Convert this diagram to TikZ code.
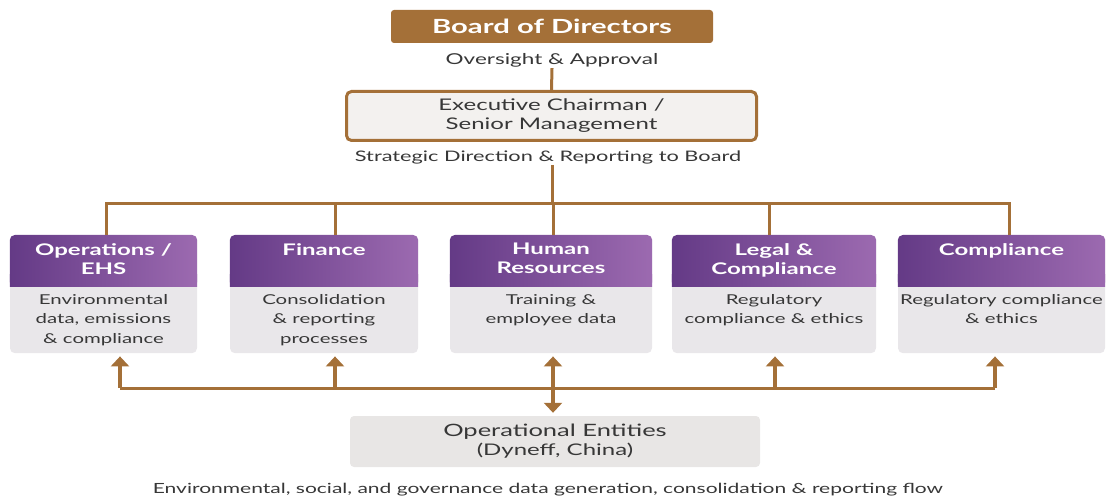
\documentclass[tikz,border=0pt]{standalone}
\usepackage{fontspec}
\setmainfont{Lato}[FakeStretch=1.5]
\usetikzlibrary{arrows.meta, positioning, calc}

\definecolor{bronze}{RGB}{164,112,56}
\definecolor{plumdark}{RGB}{100,58,134}
\definecolor{plumlight}{RGB}{156,106,176}
\definecolor{cardgray}{RGB}{233,231,234}
\definecolor{execgray}{RGB}{243,241,239}
\definecolor{entgray}{RGB}{232,230,229}
\definecolor{ink}{RGB}{55,55,55}

\begin{document}
\begin{tikzpicture}[
    x=1pt, y=-1pt,
    board/.style={rectangle, fill=bronze, text=white, rounded corners=3pt, minimum width=322, minimum height=33, inner sep=0, font=\fontsize{19.5}{22}\selectfont\bfseries},
    note/.style={text=ink, inner sep=1pt, font=\fontsize{15}{18}\selectfont},
    execbox/.style={rectangle, draw=bronze, line width=3pt, fill=execgray, rounded corners=5pt, minimum width=410, minimum height=49, align=center, text=ink, font=\fontsize{16}{19}\selectfont},
    card/.style={rectangle, fill=cardgray, rounded corners=5pt, minimum height=118, anchor=north, inner sep=0},
    headshade/.style={left color=plumdark, right color=plumlight},
    headtext/.style={anchor=north, align=center, text=white, inner sep=0, font=\fontsize{16}{19}\selectfont\bfseries},
    bodytext/.style={anchor=north, align=center, text=ink, inner sep=0, font=\fontsize{13.6}{19.5}\selectfont},
    entbox/.style={rectangle, fill=entgray, rounded corners=4pt, minimum width=410, minimum height=51, align=center, text=ink, font=\fontsize{16}{19}\selectfont},
    link/.style={draw=bronze, line width=3pt},
    arrow/.style={draw=bronze, line width=3.5pt, -{Triangle[width=18pt,length=10pt]}, shorten >=3pt},
    twoway/.style={draw=bronze, line width=3.5pt, {Triangle[width=18pt,length=10pt]}-{Triangle[width=18pt,length=10pt]}, shorten >=3pt, shorten <=3pt}
]
\useasboundingbox (0,0) rectangle (1107,502);

% top of the chart
\node[board] (board) at (552,26.5) {Board of Directors};
\node[note] (over) at (552,60) {Oversight \& Approval};
\node[execbox] (exec) at (551.5,116) {Executive Chairman /\\Senior Management};
\node[note, font=\fontsize{14.5}{18}\selectfont] (strat) at (548,157) {Strategic Direction \& Reporting to Board};
\coordinate (topbus) at (552,204);
\coordinate (lowbus) at (552,388);

% department cards
\node[card, minimum width=187] (ops) at (103.5,235) {};
\node[card, minimum width=188] (fin) at (324,235) {};
\node[card, minimum width=202] (hr) at (551,235) {};
\node[card, minimum width=204] (legal) at (774,235) {};
\node[card, minimum width=207] (comp) at (1001.5,235) {};

\foreach \c in {ops,fin,hr,legal,comp} {
  \shade[headshade, rounded corners=5pt] (\c.north west) rectangle ([yshift=-52pt]\c.north east);
  \shade[headshade] ([yshift=-40pt]\c.north west) rectangle ([yshift=-52pt]\c.north east);
}

\node[headtext] (opst) at ([yshift=-8pt]ops.north) {Operations /\\EHS};
\node[headtext] (fint) at ([yshift=-8pt]fin.north) {Finance};
\node[headtext] (hrt) at ([yshift=-8pt]hr.north) {Human\\Resources};
\node[headtext] (legalt) at ([yshift=-8pt]legal.north) {Legal \&\\Compliance};
\node[headtext] (compt) at ([yshift=-8pt]comp.north) {Compliance};

\node[bodytext] (opsb) at ([yshift=-59pt]ops.north) {Environmental\\data, emissions\\\& compliance};
\node[bodytext] (finb) at ([yshift=-59pt]fin.north) {Consolidation\\\& reporting\\processes};
\node[bodytext] (hrb) at ([yshift=-59pt]hr.north) {Training \&\\employee data};
\node[bodytext] (legalb) at ([yshift=-59pt]legal.north) {Regulatory\\compliance \& ethics};
\node[bodytext] (compb) at ([yshift=-59pt]comp.north) {Regulatory compliance\\\& ethics};

% entities and flow caption
\node[entbox] (ents) at (555,441.5) {{\fontsize{17}{19}\selectfont Operational Entities}\\(Dyneff, China)};
\node[note, font=\fontsize{14}{18}\selectfont] (flow) at (548,490) {Environmental, social, and governance data generation, consolidation \& reporting flow};

% reporting lines
\draw[link] (over.south) -- (exec.north);
\draw[link] (strat.south -| topbus) -- (topbus);
\draw[link] ([xshift=2.5pt]ops.north) |- ([xshift=7.5pt]comp.north |- topbus) -- ([xshift=7.5pt]comp.north);
\draw[link] ([xshift=11pt]fin.north |- topbus) -- ([xshift=11pt]fin.north);
\draw[link] ([xshift=2pt]hr.north |- topbus) -- ([xshift=2pt]hr.north);
\draw[link] ([xshift=-5pt]legal.north |- topbus) -- ([xshift=-5pt]legal.north);

% data flow up from the entities
\draw[link] ([xshift=16.5pt]ops.south |- lowbus) -- ([xshift=-6.5pt]comp.south |- lowbus);
\draw[arrow] ([xshift=16.5pt]ops.south |- lowbus) -- ([xshift=16.5pt]ops.south);
\draw[arrow] ([xshift=11pt]fin.south |- lowbus) -- ([xshift=11pt]fin.south);
\draw[arrow] ([xshift=1pt]legal.south |- lowbus) -- ([xshift=1pt]legal.south);
\draw[arrow] ([xshift=-6.5pt]comp.south |- lowbus) -- ([xshift=-6.5pt]comp.south);
\draw[twoway] ([xshift=2pt]hr.south) -- ([xshift=2pt]hr.south |- ents.north);

\end{tikzpicture}
\end{document}
